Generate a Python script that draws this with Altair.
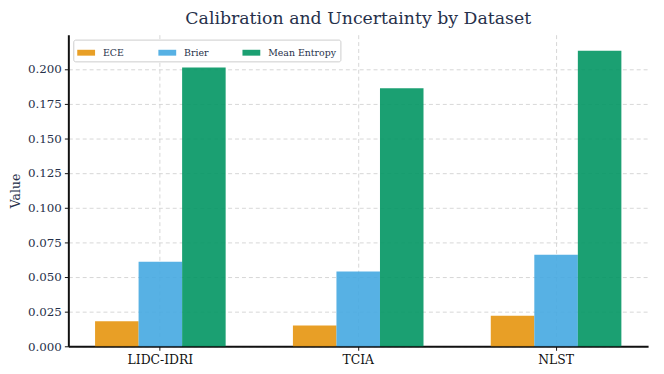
import altair as alt
import pandas as pd

datasets = ["LIDC-IDRI", "TCIA", "NLST"]
metrics = ["ECE", "Brier", "Mean Entropy"]
ece = [0.018, 0.015, 0.022]
brier = [0.061, 0.054, 0.066]
entropy = [0.201, 0.186, 0.213]
colors = ["#E5950E", "#45A9E1", "#029663"]
y_ticks = [0.0, 0.025, 0.05, 0.075, 0.1, 0.125, 0.15, 0.175, 0.2]

rows = []
for i, d in enumerate(datasets):
    for m, vals in zip(metrics, [ece, brier, entropy]):
        rows.append({"Dataset": d, "Metric": m, "Value": vals[i]})
df = pd.DataFrame(rows)

FONT = "DejaVu Serif"
TXT = "#26304a"

chart = alt.Chart(df).mark_bar(opacity=0.9).encode(
    x=alt.X(
        "Dataset:N",
        sort=datasets,
        scale=alt.Scale(paddingInner=0.34, paddingOuter=0.135),
        axis=alt.Axis(
            title=None, labelAngle=0, grid=True, bandPosition=0.5,
            gridDash=[4, 3], gridColor="#cccccc", gridWidth=0.8,
            domainColor="#111111", domainWidth=2, tickColor="#111111",
            tickSize=4, labelFont=FONT, labelFontSize=12.5, labelColor="#111111",
            labelPadding=3,
        ),
    ),
    xOffset=alt.XOffset("Metric:N", sort=metrics, scale=alt.Scale(paddingInner=0, paddingOuter=0)),
    y=alt.Y(
        "Value:Q",
        scale=alt.Scale(domain=[0, 0.2246], nice=False, zero=True),
        axis=alt.Axis(
            values=y_ticks, format=".3f", title="Value",
            gridDash=[4, 3], gridColor="#cccccc", gridWidth=0.8,
            domainColor="#111111", domainWidth=2, tickColor="#111111",
            tickSize=4, labelFont=FONT, labelFontSize=12, labelColor=TXT,
            titleFont=FONT, titleFontSize=12.5, titleFontWeight="normal",
            titleColor=TXT, titlePadding=5, labelPadding=3,
        ),
    ),
    color=alt.Color(
        "Metric:N",
        sort=metrics,
        scale=alt.Scale(domain=metrics, range=colors),
        legend=alt.Legend(
            title=None, orient="none", legendX=5, legendY=5,
            direction="horizontal", columns=3, columnPadding=34,
            symbolType="M-1,-0.33H1V0.33H-1Z", symbolSize=324,
            symbolStrokeWidth=0, symbolOpacity=0.9, symbolOffset=0,
            labelFont=FONT, labelFontSize=9.5, labelColor=TXT, labelOffset=8,
            strokeColor="#cccccc", fillColor="white", padding=4,
            cornerRadius=2,
        ),
    ),
).properties(
    width=586,
    height=315,
    title=alt.TitleParams(
        "Calibration and Uncertainty by Dataset",
        font=FONT, fontSize=17.5, fontWeight="normal", color=TXT,
        anchor="middle", offset=7,
    ),
    autosize="none",
    padding={"left": 61, "top": 25, "right": 8, "bottom": 22},
).configure_view(stroke=None)

chart.save("out.html", embed_options={"renderer": "svg", "actions": False})
